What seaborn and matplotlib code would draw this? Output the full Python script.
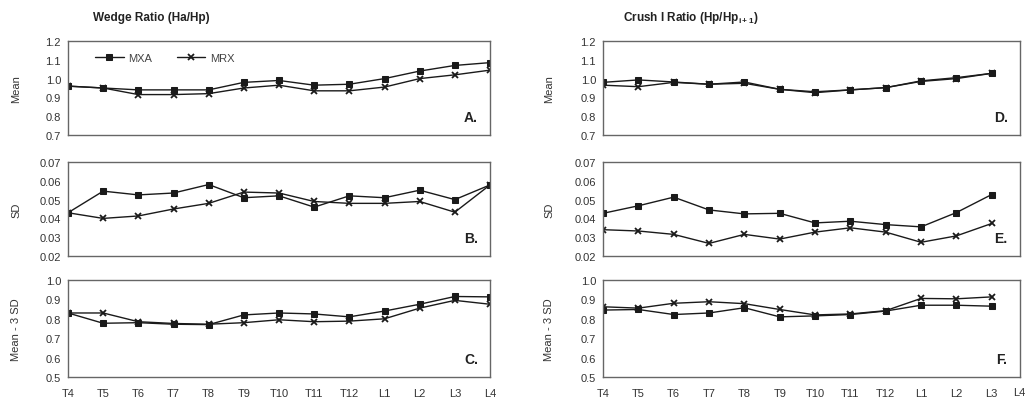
import numpy as np
import pandas as pd
import seaborn as sns
import matplotlib
matplotlib.use("Agg")
import matplotlib.pyplot as plt

levels = ["T4", "T5", "T6", "T7", "T8", "T9", "T10", "T11", "T12", "L1", "L2", "L3", "L4"]

# wedge ratio (left column), T4..L4
wedge_mean_mxa = [0.96, 0.95, 0.94, 0.94, 0.94, 0.98, 0.99, 0.965, 0.97, 1.00, 1.04, 1.07, 1.085]
wedge_mean_mrx = [0.96, 0.95, 0.915, 0.915, 0.92, 0.95, 0.965, 0.935, 0.935, 0.955, 1.00, 1.02, 1.045]
wedge_sd_mxa = [0.043, 0.0545, 0.0525, 0.0535, 0.058, 0.051, 0.052, 0.046, 0.052, 0.051, 0.055, 0.050, 0.0578]
wedge_sd_mrx = [0.043, 0.040, 0.0413, 0.045, 0.048, 0.054, 0.0535, 0.049, 0.048, 0.048, 0.049, 0.0433, 0.0578]
wedge_m3_mxa = [0.83, 0.777, 0.78, 0.772, 0.77, 0.82, 0.83, 0.825, 0.81, 0.84, 0.875, 0.915, 0.913]
wedge_m3_mrx = [0.83, 0.83, 0.785, 0.776, 0.772, 0.78, 0.795, 0.785, 0.788, 0.80, 0.855, 0.895, 0.875]

# crush I ratio (right column), T4..L3
crush_mean_mxa = [0.98, 0.993, 0.982, 0.97, 0.982, 0.943, 0.93, 0.94, 0.952, 0.988, 1.005, 1.028]
crush_mean_mrx = [0.965, 0.957, 0.98, 0.97, 0.975, 0.943, 0.925, 0.94, 0.952, 0.985, 1.00, 1.028]
crush_sd_mxa = [0.0427, 0.0467, 0.0513, 0.0445, 0.0424, 0.0427, 0.0376, 0.0385, 0.0367, 0.0355, 0.0431, 0.0527]
crush_sd_mrx = [0.034, 0.0333, 0.0315, 0.0267, 0.0315, 0.029, 0.0327, 0.035, 0.0327, 0.0273, 0.0307, 0.0373]
crush_m3_mxa = [0.845, 0.848, 0.822, 0.83, 0.857, 0.81, 0.815, 0.822, 0.84, 0.87, 0.87, 0.865]
crush_m3_mrx = [0.862, 0.855, 0.88, 0.888, 0.878, 0.848, 0.82, 0.825, 0.842, 0.905, 0.903, 0.913]

sns.set_style("white")
plt.rcParams["font.family"] = ["Liberation Sans", "DejaVu Sans"]

fig = plt.figure(figsize=(10.26, 4.02), dpi=100)

W, H = 1026, 402
rows = [(42, 136), (163, 257), (281, 378)]
cols = [(68, 490), (603, 1020)]

panels = [
    # col, row, mxa, mrx, ylim, yticks, fmt, ylabel, letter
    (0, 0, wedge_mean_mxa, wedge_mean_mrx, (0.7, 1.2), np.arange(0.7, 1.21, 0.1), "{:.1f}", "Mean", "A."),
    (0, 1, wedge_sd_mxa, wedge_sd_mrx, (0.02, 0.07), np.arange(0.02, 0.071, 0.01), "{:.2f}", "SD", "B."),
    (0, 2, wedge_m3_mxa, wedge_m3_mrx, (0.5, 1.0), np.arange(0.5, 1.01, 0.1), "{:.1f}", "Mean - 3 SD", "C."),
    (1, 0, crush_mean_mxa, crush_mean_mrx, (0.7, 1.2), np.arange(0.7, 1.21, 0.1), "{:.1f}", "Mean", "D."),
    (1, 1, crush_sd_mxa, crush_sd_mrx, (0.02, 0.07), np.arange(0.02, 0.071, 0.01), "{:.2f}", "SD", "E."),
    (1, 2, crush_m3_mxa, crush_m3_mrx, (0.5, 1.0), np.arange(0.5, 1.01, 0.1), "{:.1f}", "Mean - 3 SD", "F."),
]

line_col = "#1a1a1a"
txt_col = "#333333"
for c, r, mxa, mrx, ylim, yticks, fmt, ylab, letter in panels:
    x0, x1 = cols[c]
    y0, y1 = rows[r]
    ax = fig.add_axes([x0 / W, 1 - y1 / H, (x1 - x0) / W, (y1 - y0) / H])
    df = pd.DataFrame({"pos": np.arange(len(mxa)), "MXA": mxa, "MRX": mrx})
    sns.lineplot(data=df, x="pos", y="MXA", ax=ax, color=line_col, lw=1.0,
                 marker="s", markersize=4.5, markeredgecolor=line_col,
                 markerfacecolor=line_col, label="MXA")
    sns.lineplot(data=df, x="pos", y="MRX", ax=ax, color=line_col, lw=1.0,
                 marker="x", markersize=4.5, markeredgewidth=1.3,
                 markeredgecolor=line_col, label="MRX")
    ax.set_ylim(*ylim)
    ax.set_yticks(yticks)
    ax.set_yticklabels([fmt.format(v) for v in yticks])
    ax.set_xlim(0, 12 if c == 0 else 11.8)
    ax.set_xticks(np.arange(len(mxa)))
    if r == 2:
        ax.set_xticklabels(levels[:len(mxa)])
    else:
        ax.set_xticklabels([])
    ax.set_xlabel("")
    ax.set_ylabel(ylab, fontsize=8, color=txt_col)
    ax.yaxis.set_label_coords(-0.111 if c == 0 else -0.1175, 0.5)
    ax.tick_params(axis="y", direction="out", length=3, width=0.8, labelsize=8,
                   colors="#555555", labelcolor=txt_col, pad=2)
    ax.tick_params(axis="x", direction="inout", length=4, width=0.8, labelsize=8,
                   colors="#555555", labelcolor=txt_col, pad=6)
    for s in ax.spines.values():
        s.set_color("#666666")
        s.set_linewidth(1.0)
    ax.text(0.955, 0.19, letter, transform=ax.transAxes, ha="center", va="center",
            fontsize=10, fontweight="bold", color="#222222")
    if c == 0 and r == 0:
        ax.legend(loc="upper left", bbox_to_anchor=(0.04, 0.98), ncol=2, frameon=False,
                  fontsize=8, handlelength=2.6, columnspacing=2.2, handletextpad=0.4,
                  labelcolor="#444444")
    else:
        leg = ax.get_legend()
        if leg is not None:
            leg.remove()

# last level label on the right column sits at the figure edge
fig.text(1025 / W, 1 - 393 / H, levels[-1], ha="right", va="center",
         fontsize=8, color=txt_col)

fig.text(93 / W, 1 - 18 / H, "Wedge Ratio (Ha/Hp)", ha="left", va="center",
         fontsize=8.5, fontweight="bold", color="#222222")
fig.text(623 / W, 1 - 18 / H, r"Crush I Ratio (Hp/Hp$_{\mathregular{i+1}}$)", ha="left",
         va="center", fontsize=8.5, fontweight="bold", color="#222222")

fig.savefig("out.png", dpi=100)
